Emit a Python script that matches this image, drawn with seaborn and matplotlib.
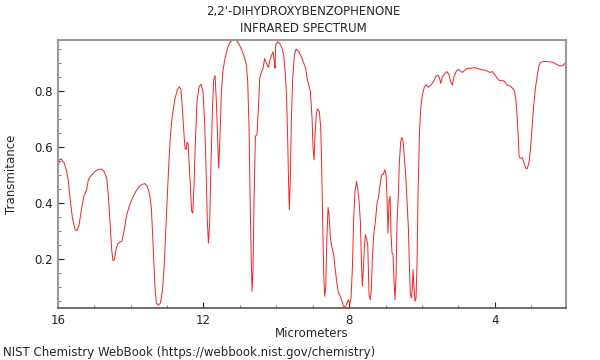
# IR spectrum of 2,2'-dihydroxybenzophenone (NIST style)
import numpy as np
import pandas as pd
import matplotlib
matplotlib.use("Agg")
import matplotlib.pyplot as plt
import matplotlib.ticker as mticker
import seaborn as sns

sns.set_theme(style="white")
plt.rcParams["font.family"] = ["DejaVu Sans"]

# ------------------------------------------------------------------
# DATA
# ------------------------------------------------------------------
wavelength = [
    16.00, 15.96, 15.91, 15.82, 15.754, 15.707, 15.663, 15.596, 15.525, 15.47,
    15.414, 15.343, 15.273, 15.205, 15.16, 15.068, 14.976, 14.885, 14.793, 14.729,
    14.657, 14.611, 14.566, 14.515, 14.482, 14.444, 14.399, 14.353, 14.289, 14.242,
    14.18, 14.116, 14.04, 13.949, 13.858, 13.767, 13.677, 13.606, 13.539, 13.475,
    13.429, 13.404, 13.363, 13.329, 13.293, 13.237, 13.182, 13.127, 13.081, 13.036,
    12.99, 12.944, 12.899, 12.853, 12.788, 12.717, 12.66, 12.616, 12.578, 12.533,
    12.505, 12.478, 12.45, 12.423, 12.396, 12.359, 12.323, 12.295, 12.258, 12.222,
    12.176, 12.121, 12.066, 12.012, 11.965, 11.929, 11.893, 11.864, 11.828, 11.791,
    11.755, 11.719, 11.681, 11.646, 11.609, 11.581, 11.545, 11.508, 11.462, 11.408,
    11.343, 11.262, 11.169, 11.077, 10.986, 10.894, 10.822, 10.785, 10.747, 10.721,
    10.693, 10.666, 10.639, 10.612, 10.575, 10.529, 10.483, 10.456, 10.42, 10.364,
    10.319, 10.272, 10.218, 10.163, 10.09, 10.053, 10.035, 10.017, 9.962, 9.907,
    9.843, 9.798, 9.751, 9.714, 9.687, 9.66, 9.642, 9.613, 9.586, 9.55,
    9.504, 9.458, 9.385, 9.312, 9.248, 9.193, 9.156, 9.111, 9.065, 9.019,
    8.992, 8.964, 8.937, 8.90, 8.864, 8.818, 8.781, 8.754, 8.727, 8.699,
    8.672, 8.644, 8.616, 8.58, 8.553, 8.516, 8.47, 8.425, 8.388, 8.343,
    8.296, 8.242, 8.196, 8.159, 8.104, 8.059, 8.021, 7.985, 7.949, 7.912,
    7.876, 7.839, 7.802, 7.766, 7.729, 7.692, 7.665, 7.638, 7.61, 7.583,
    7.556, 7.519, 7.491, 7.473, 7.455, 7.418, 7.39, 7.363, 7.327, 7.281,
    7.236, 7.198, 7.153, 7.107, 7.062, 7.024, 6.988, 6.961, 6.934, 6.906,
    6.878, 6.851, 6.824, 6.796, 6.769, 6.742, 6.713, 6.686, 6.65, 6.622,
    6.585, 6.558, 6.521, 6.485, 6.449, 6.411, 6.375, 6.347, 6.32, 6.293,
    6.266, 6.247, 6.219, 6.192, 6.165, 6.137, 6.11, 6.073, 6.037, 5.991,
    5.935, 5.89, 5.826, 5.753, 5.689, 5.625, 5.57, 5.524, 5.488, 5.441,
    5.369, 5.314, 5.259, 5.213, 5.168, 5.121, 5.058, 5.003, 4.947, 4.893,
    4.82, 4.746, 4.665, 4.573, 4.481, 4.39, 4.298, 4.207, 4.142, 4.069,
    3.996, 3.932, 3.867, 3.795, 3.731, 3.666, 3.593, 3.519, 3.464, 3.428,
    3.392, 3.363, 3.336, 3.30, 3.245, 3.199, 3.153, 3.117, 3.07, 3.025,
    2.98, 2.934, 2.888, 2.842, 2.797, 2.75, 2.677, 2.54, 2.403, 2.312,
    2.22, 2.147, 2.073, 2.05,
]
transmittance = [
    0.500, 0.554, 0.558, 0.542, 0.513, 0.477, 0.418, 0.346, 0.305, 0.301,
    0.322, 0.382, 0.429, 0.447, 0.483, 0.500, 0.513, 0.520, 0.521, 0.513,
    0.489, 0.429, 0.334, 0.228, 0.194, 0.198, 0.234, 0.254, 0.261, 0.263,
    0.299, 0.352, 0.388, 0.418, 0.441, 0.459, 0.467, 0.469, 0.459, 0.429,
    0.382, 0.311, 0.192, 0.097, 0.043, 0.035, 0.043, 0.085, 0.168, 0.299,
    0.441, 0.560, 0.655, 0.714, 0.768, 0.804, 0.815, 0.804, 0.738, 0.643,
    0.596, 0.590, 0.617, 0.614, 0.548, 0.453, 0.370, 0.364, 0.465, 0.619,
    0.762, 0.815, 0.824, 0.798, 0.679, 0.524, 0.334, 0.257, 0.334, 0.548,
    0.727, 0.839, 0.855, 0.762, 0.619, 0.524, 0.643, 0.798, 0.875, 0.916,
    0.952, 0.976, 0.983, 0.978, 0.958, 0.928, 0.893, 0.833, 0.660, 0.429,
    0.228, 0.085, 0.168, 0.406, 0.637, 0.646, 0.762, 0.845, 0.863, 0.881,
    0.916, 0.899, 0.884, 0.916, 0.940, 0.905, 0.881, 0.964, 0.976, 0.970,
    0.952, 0.928, 0.857, 0.762, 0.619, 0.453, 0.376, 0.501, 0.703, 0.845,
    0.928, 0.950, 0.940, 0.922, 0.899, 0.881, 0.845, 0.821, 0.798, 0.703,
    0.596, 0.554, 0.643, 0.720, 0.736, 0.726, 0.667, 0.524, 0.334, 0.144,
    0.067, 0.097, 0.263, 0.384, 0.358, 0.275, 0.239, 0.216, 0.168, 0.121,
    0.079, 0.067, 0.049, 0.032, 0.028, 0.043, 0.055, 0.040, 0.061, 0.168,
    0.346, 0.441, 0.477, 0.453, 0.406, 0.334, 0.192, 0.103, 0.168, 0.239,
    0.287, 0.269, 0.251, 0.168, 0.073, 0.055, 0.097, 0.204, 0.287, 0.334,
    0.400, 0.418, 0.465, 0.501, 0.503, 0.519, 0.501, 0.418, 0.293, 0.406,
    0.424, 0.287, 0.222, 0.216, 0.121, 0.055, 0.144, 0.334, 0.429, 0.548,
    0.619, 0.634, 0.622, 0.560, 0.501, 0.406, 0.311, 0.168, 0.073, 0.061,
    0.097, 0.162, 0.097, 0.049, 0.061, 0.192, 0.429, 0.643, 0.738, 0.786,
    0.815, 0.822, 0.813, 0.822, 0.833, 0.851, 0.857, 0.848, 0.827, 0.851,
    0.863, 0.869, 0.857, 0.833, 0.821, 0.851, 0.871, 0.877, 0.871, 0.866,
    0.875, 0.881, 0.881, 0.883, 0.881, 0.876, 0.875, 0.871, 0.866, 0.869,
    0.857, 0.845, 0.836, 0.838, 0.833, 0.821, 0.818, 0.810, 0.798, 0.774,
    0.714, 0.643, 0.566, 0.560, 0.562, 0.542, 0.524, 0.522, 0.542, 0.590,
    0.667, 0.750, 0.810, 0.851, 0.887, 0.902, 0.905, 0.905, 0.902, 0.895,
    0.889, 0.890, 0.899, 0.900,
]
x_ticks = [16, 12, 8, 4]
y_ticks = [0.2, 0.4, 0.6, 0.8]

TITLE = "2,2'-DIHYDROXYBENZOPHENONE\nINFRARED SPECTRUM"
FOOTER = "NIST Chemistry WebBook (https://webbook.nist.gov/chemistry)"

df = pd.DataFrame({"um": wavelength, "T": transmittance})

# ------------------------------------------------------------------
# PLOT
# ------------------------------------------------------------------
fig = plt.figure(figsize=(6, 3.6), dpi=100)
ax = fig.add_axes([0.0962, 0.1435, 0.8467, 0.7455])

sns.lineplot(data=df, x="um", y="T", sort=False, color="#ff2020",
             linewidth=0.7, ax=ax, estimator=None)

ax.set_xlim(16, 2.056)
ax.set_ylim(0.024, 0.982)
ax.set_xticks(x_ticks)
ax.set_yticks(y_ticks)
ax.xaxis.set_minor_locator(mticker.MultipleLocator(1))
ax.yaxis.set_minor_locator(mticker.MultipleLocator(0.05))
ax.xaxis.set_major_formatter(mticker.FormatStrFormatter("%d"))
ax.yaxis.set_major_formatter(mticker.FormatStrFormatter("%.1f"))

ax.tick_params(which="both", direction="in", labelsize=8.5, colors="#222222",
               bottom=True, left=True, top=False, right=False)
ax.tick_params(which="major", length=4, width=0.8, color="#222222")
ax.tick_params(which="minor", length=2.5, width=0.8, color="#888888")
ax.tick_params(axis="x", pad=4)

for side in ["top", "left", "right"]:
    ax.spines[side].set_color("#999999")
    ax.spines[side].set_linewidth(1.5)
ax.spines["bottom"].set_color("#555555")
ax.spines["bottom"].set_linewidth(1.2)

ax.set_xlabel("Micrometers", fontsize=8.5, labelpad=0)
ax.set_ylabel("Transmitance", fontsize=8.5, labelpad=12)
fig.text(0.505, 0.985, TITLE, ha="center", va="top", fontsize=8.5,
         linespacing=1.35)
fig.text(0.005, 0.022, FOOTER, ha="left", va="center", fontsize=8.5)

fig.savefig("out.png", dpi=100)
